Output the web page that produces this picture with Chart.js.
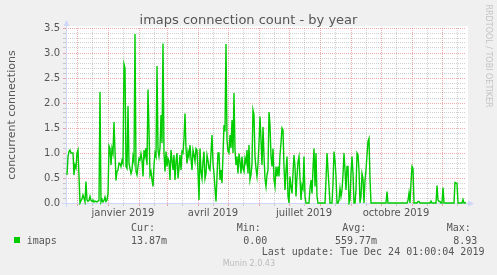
<!DOCTYPE html>
<html>
<head>
<meta charset="utf-8">
<script src="https://cdn.jsdelivr.net/npm/chart.js@4.4.1/dist/chart.umd.min.js"></script>
<style>
html, body { margin: 0; padding: 0; background: #f0f0f0; }
#wrap { position: relative; width: 497px; height: 275px; overflow: hidden; }
#wrap canvas { position: absolute; left: 0; top: 0; }
.t { position: absolute; white-space: nowrap; color: #555; }
.mono { font-family: "DejaVu Sans Mono", monospace; font-size: 10px; line-height: 10px; }
</style>
</head>
<body>
<div id="wrap">
    <canvas id="chart" width="497" height="275"></canvas>
    <div class="t" style="left:0;top:13px;width:497px;text-align:center;font:13px/13px 'DejaVu Sans';color:#555;">imaps connection count - by year</div>
    <div class="t" style="left:-88.5px;top:108px;width:200px;height:14px;text-align:center;font:11px/14px 'DejaVu Sans';transform:rotate(-90deg);">concurrent connections</div>
    <div class="t" style="left:417.8px;top:51px;width:140px;height:10px;text-align:center;font:8px/10px 'DejaVu Sans';color:#c4c4c4;transform:rotate(90deg);">RRDTOOL / TOBI OETIKER</div>

    <div class="t mono" style="left:131px;top:222.8px;">Cur:</div>
    <div class="t mono" style="left:236.7px;top:222.8px;">Min:</div>
    <div class="t mono" style="left:342.3px;top:222.8px;">Avg:</div>
    <div class="t mono" style="left:446.7px;top:222.8px;">Max:</div>

    <div style="position:absolute;left:14px;top:236.7px;width:6px;height:6px;background:#00cc00;"></div>
    <div class="t mono" style="left:26.7px;top:235.5px;">imaps</div>
    <div class="t mono" style="left:131px;top:235.5px;">13.87m</div>
    <div class="t mono" style="left:243.3px;top:235.5px;">0.00</div>
    <div class="t mono" style="left:335px;top:235.5px;">559.77m</div>
    <div class="t mono" style="left:453.3px;top:235.5px;">8.93</div>

    <div class="t mono" style="left:261.7px;top:246.5px;">Last update: Tue Dec 24 01:00:04 2019</div>
    <div class="t" style="left:222.7px;top:260px;font:8px/8px 'DejaVu Sans';color:#bbb;">Munin 2.0.43</div>
</div>

<script>
// day 0 = 20 nov 2018, one value per day (concurrent connections)
var conns = [
    null, .56, .93, 1.03, 1.06, 1.0, 1.0, 1.0, .56, .76,
    .70, 1.0, 1.06, .53, 0, .05, .08, .16, .10, .02,
    .43, .06, .03, .05, .13, .05, .03, .06, .02, .04,
    .03, .02, .04, .05, 2.22, .02, .07, .02, .05, .12,
    .03, .06, .19, 1.14, 1.09, .76, 1.09, .99, 1.62, 1.03,
    .45, .63, .66, .80, .79, .73, .85, .79, 2.78, 2.70,
    .73, .69, 1.94, .79, .69, .59, .66, .93, .83, 3.38,
    .63, .56, .73, .89, .86, .99, .86, .53, 1.06, .93,
    1.10, .76, 2.27, 1.46, .56, .63, .46, .33, .76, 1.0,
    .93, 2.74, 1.06, .93, 1.10, 1.76, 1.20, 3.19, .99, .63,
    1.03, .73, .89, .83, .46, 1.06, .86, .66, .96, .46,
    .83, 1.0, .49, .70, .96, .66, 1.03, 1.0, 1.29, 1.79,
    1.09, .79, 1.03, .93, 1.16, .89, .66, 1.06, .96, .83,
    1.09, 1.06, .63, .06, 1.09, .63, .49, .83, 1.03, .49,
    .59, .96, .85, .69, .66, 1.0, 1.36, .79, .59, .30,
    .03, .53, 1.0, 1.0, .46, .66, .40, .96, 1.56, 1.43,
    3.18, 1.26, 1.03, 1.0, 1.36, 1.10, 1.66, 1.0, 2.20, 1.06,
    .76, .93, .59, .99, .83, .59, .93, .69, .63, .89,
    .80, 1.06, .59, 1.16, .46, .56, .79, 1.86, 1.76, .93,
    .69, .53, .79, 1.20, 1.73, 1.26, .76, 1.52, .93, .49,
    .33, .56, .66, 1.82, 1.56, .93, .73, 1.09, .46, .33,
    .73, .53, .73, .53, .96, 1.20, 1.50, 1.46, .73, .26,
    .66, .93, .13, 0, .53, .33, .19, .60, .96, .73,
    .13, .53, .83, .93, .49, .06, .36, .29, .93, .13,
    0, 0, 0, 0, .29, .46, .19, .69, 1.09, .33,
    1.0, .13, 0, 0, 0, 0, 0, 0, 0, 0,
    .46, 1.0, .66, .33, 0, 0, 0, .39, 1.03, .86,
    .53, 0, 0, .06, .29, .13, .26, .56, 1.0, .66,
    .26, .73, .73, 0, .06, .59, .93, .59, 0, 0,
    .26, 1.0, .96, .66, 0, .13, .59, .49, 0, .46,
    .66, .96, 1.23, 1.29, .49, 0, 0, 0, 0, 0,
    0, 0, 0, 0, 0, 0, 0, 0, 0, 0,
    0, .23, 0, 0, 0, 0, 0, 0, 0, 0,
    0, 0, 0, 0, 0, 0, 0, 0, 0, 0,
    0, 0, .05, .20, 0, .40, .73, .69, 0, 0,
    0, 0, .03, .03, 0, 0, 0, 0, 0, 0,
    0, 0, 0, 0, 0, .04, 0, 0, 0, 0,
    0, .35, .06, .03, .03, 0, 0, .31, 0, 0,
    0, 0, 0, 0, 0, 0, 0, 0, 0, .41,
    .40, .39, 0, 0, 0, 0, 0, .07, 0, 0,
    .014
];

var monthStarts = [11, 42, 73, 101, 132, 162, 193, 223, 254, 285, 315, 346, 376];
var midMonths = [26, 57, 88, 116, 147, 177, 208, 238, 269, 300, 330, 361, 391];
var xLabelDays = [57, 147, 238, 330];
var xLabels = ['janvier 2019', 'avril 2019', 'juillet 2019', 'octobre 2019'];
var yLabels = ['0.0', '0.5', '1.0', '1.5', '2.0', '2.5', '3.0', '3.5'];

var minorGrid = 'rgba(143,143,143,0.42)';
var majorGrid = 'rgba(222,79,79,0.48)';
var axisColor = '#cfd6f8';

var rrdLook = {
    id: 'rrdLook',
    beforeDraw: function(chart) {
        var a = chart.chartArea, c = chart.ctx;
        c.save();
        c.fillStyle = '#ffffff';
        c.fillRect(a.left, a.top - 2, a.right - a.left + 2, a.bottom - a.top + 2);
        c.restore();
    },
    beforeDatasetsDraw: function(chart) {
        var a = chart.chartArea, c = chart.ctx;
        c.save();
        c.strokeStyle = axisColor;
        c.fillStyle = axisColor;
        c.lineWidth = 1;
        c.beginPath();
        c.moveTo(a.left - 4, a.bottom + 0.5);
        c.lineTo(a.right + 3, a.bottom + 0.5);
        c.moveTo(a.left + 0.5, a.bottom + 4);
        c.lineTo(a.left + 0.5, a.top - 3);
        c.stroke();
        c.beginPath();
        c.moveTo(a.right + 2, a.bottom - 2.5);
        c.lineTo(a.right + 8, a.bottom + 0.5);
        c.lineTo(a.right + 2, a.bottom + 3.5);
        c.fill();
        c.beginPath();
        c.moveTo(a.left - 2.5, a.top - 2);
        c.lineTo(a.left + 0.5, a.top - 8);
        c.lineTo(a.left + 3.5, a.top - 2);
        c.fill();
        c.restore();
    }
};

var ctx = document.getElementById("chart").getContext("2d");

new Chart(ctx, {
    type: "line",
    data: {
        datasets: [{
            label: "imaps",
            data: conns.map(function(v, i) { return {x: i, y: v}; }),
            borderColor: "#00cc00",
            borderWidth: 1.4,
            pointRadius: 0,
            tension: 0,
            fill: false,
            spanGaps: false,
            clip: {left: 0, top: 0, right: 0, bottom: 2}
        }]
    },
    options: {
        responsive: false,
        animation: false,
        events: [],
        layout: {
            padding: {left: 0, top: 28, right: 31, bottom: 52}
        },
        plugins: {
            legend: { display: false },
            tooltip: { enabled: false }
        },
        scales: {
            x: {
                type: 'linear',
                min: 0,
                max: 400,
                afterBuildTicks: function(scale) {
                    scale.ticks = monthStarts.concat(midMonths)
                        .sort(function(a, b) { return a - b; })
                        .map(function(d) { return {value: d}; });
                },
                afterFit: function(scale) { scale.height = 20; },
                grid: {
                    color: function(c) {
                        return c.tick && monthStarts.indexOf(c.tick.value) >= 0 ? majorGrid : minorGrid;
                    },
                    tickLength: 3,
                    lineWidth: 1
                },
                border: { display: false, dash: [1, 1] },
                ticks: {
                    autoSkip: false,
                    maxRotation: 0,
                    padding: 1,
                    color: '#555',
                    font: { family: 'DejaVu Sans', size: 10 },
                    callback: function(value) {
                        var k = xLabelDays.indexOf(value);
                        return k >= 0 ? xLabels[k] : '';
                    }
                }
            },
            y: {
                type: 'linear',
                min: 0,
                max: 3.5,
                afterBuildTicks: function(scale) {
                    var t = [];
                    for (var i = 0; i <= 35; i++) t.push({value: i / 10});
                    scale.ticks = t;
                },
                afterFit: function(scale) { scale.width = 66; },
                grid: {
                    color: function(c) {
                        return c.tick && Math.round(c.tick.value * 10) % 5 === 0 ? majorGrid : minorGrid;
                    },
                    tickLength: 3,
                    lineWidth: 1
                },
                border: { display: false, dash: [1, 1] },
                ticks: {
                    autoSkip: false,
                    padding: 3,
                    color: '#555',
                    font: { family: 'DejaVu Sans', size: 10 },
                    callback: function(value) {
                        var n = Math.round(value * 10);
                        return n % 5 === 0 ? yLabels[n / 5] : '';
                    }
                }
            }
        }
    },
    plugins: [rrdLook]
});
</script>
</body>
</html>
